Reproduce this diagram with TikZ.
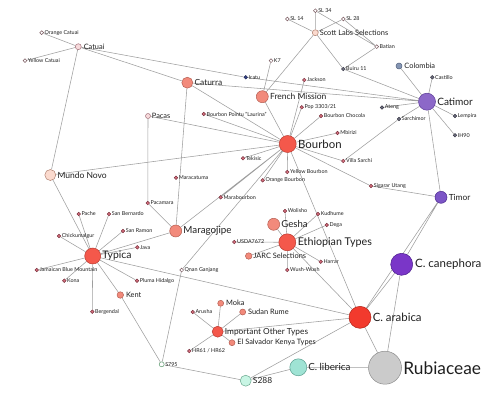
\documentclass[tikz,border=0pt]{standalone}
\usepackage{fontspec}
\setmainfont{Lato}
\usetikzlibrary{backgrounds}
\definecolor{edgec}{HTML}{9E9E9E}
\definecolor{redf}{HTML}{F4584B}\definecolor{redd}{HTML}{B8392F}
\definecolor{arf}{HTML}{F23A2D}\definecolor{ard}{HTML}{B02418}
\definecolor{salf}{HTML}{F28A7B}\definecolor{sald}{HTML}{B55E52}
\definecolor{leaff}{HTML}{D9707F}\definecolor{leafd}{HTML}{7A3440}
\definecolor{peachf}{HTML}{FBDACE}\definecolor{peachd}{HTML}{B08070}
\definecolor{pinkf}{HTML}{F7DADC}\definecolor{pinkd}{HTML}{A07078}
\definecolor{whd}{HTML}{7A5A60}
\definecolor{grf}{HTML}{6F7080}\definecolor{grd}{HTML}{3A3A48}
\definecolor{catf}{HTML}{8C68C8}\definecolor{catd}{HTML}{5C3C98}
\definecolor{timf}{HTML}{7C55C6}\definecolor{timd}{HTML}{4E2C90}
\definecolor{canf}{HTML}{7A36C8}\definecolor{cand}{HTML}{4A1C8C}
\definecolor{colf}{HTML}{8596B4}\definecolor{cold}{HTML}{4F5F7C}
\definecolor{icf}{HTML}{34428A}
\definecolor{libf}{HTML}{9FE3D4}\definecolor{libd}{HTML}{5B9F90}
\definecolor{s288f}{HTML}{C8F5E4}\definecolor{s288d}{HTML}{6AA88E}
\definecolor{s795d}{HTML}{5E9A70}
\definecolor{rubf}{HTML}{CBCBCB}\definecolor{rubd}{HTML}{8C8C8C}
\definecolor{txt}{HTML}{1E1E1E}
\tikzset{
  nd/.style={circle, draw, inner sep=0pt, line width=0.5pt, minimum size=#1},
  leaf/.style={nd=3.6pt, fill=leaff, draw=leafd},
  wleaf/.style={nd=3.8pt, fill=white, draw=whd},
  gleaf/.style={nd=3.6pt, fill=grf, draw=grd},
  tiny/.style={font=\fontsize{5.4}{6}\selectfont, text=txt, inner sep=0.6pt},
  sml/.style={font=\fontsize{7.4}{8}\selectfont, text=txt, inner sep=1pt},
  lab/.style={font=\fontsize{#1}{#1}\selectfont, text=txt, inner sep=1.3pt, anchor=west},
  edge/.style={draw=edgec, line width=0.55pt}
}
\begin{document}
\begin{tikzpicture}[x=1pt,y=-1pt]
\useasboundingbox (0,0) rectangle (500,404);
% ---------- nodes ----------
\node[nd=33pt, fill=rubf, draw=rubd] (rub) at (385,367.7) {};
\node[lab=17.3, inner sep=1.5pt] at (rub.east) {Rubiaceae};
\node[nd=22pt, fill=arf, draw=ard] (arab) at (360,317.3) {};
\node[lab=11.4] at (arab.east) {C. arabica};
\node[nd=22pt, fill=canf, draw=cand] (cane) at (401.7,264.3) {};
\node[lab=11.5, inner sep=2pt] at (cane.east) {C. canephora};
\node[nd=17pt, fill=libf, draw=libd] (lib) at (298.3,367.3) {};
\node[lab=9.8, inner sep=1pt] at (lib.east) {C. liberica};
\node[nd=11pt, fill=s288f, draw=s288d] (s288) at (245.7,380.7) {};
\node[lab=8.4] at (s288.east) {S288};
\node[nd=5pt, fill=white, draw=s795d] (s795) at (161.7,364.3) {};
\node[tiny, anchor=west] at (s795.east) {S795};

\node[nd=12pt, fill=timf, draw=timd] (timor) at (441,197.3) {};
\node[lab=8.4] at (timor.east) {Timor};
\node[nd=17pt, fill=catf, draw=catd] (catimor) at (427,101.7) {};
\node[lab=10.1] at (catimor.east) {Catimor};
\node[nd=6pt, fill=colf, draw=cold] (colombia) at (399,66) {};
\node[sml, anchor=west, inner sep=2pt] at (colombia.east) {Colombia};
\node[gleaf] (castillo) at (432.3,77.3) {};
\node[tiny, anchor=west] at (castillo.east) {Castillo};
\node[gleaf] (lempira) at (455,116) {};
\node[tiny, anchor=west] at (lempira.east) {Lempira};
\node[gleaf] (ih90) at (455,135.3) {};
\node[tiny, anchor=west] at (ih90.east) {IH90};
\node[gleaf] (sarchimor) at (399,119) {};
\node[tiny, anchor=west] at (sarchimor.east) {Sarchimor};
\node[gleaf] (ateng) at (382,107.5) {};
\node[tiny, anchor=west] at (ateng.east) {Ateng};
\node[gleaf] (buiru) at (343.3,69) {};
\node[tiny, anchor=west] at (buiru.east) {Buiru 11};
\node[nd=3.6pt, fill=icf, draw=icf!60!black] (icatu) at (245.7,77.3) {};
\node[tiny, anchor=west] at (icatu.east) {Icatu};

\node[wleaf] (batian) at (376.7,46.7) {};
\node[tiny, anchor=west] at (batian.east) {Batian};
\node[wleaf] (sl28) at (343.3,19) {};
\node[tiny, anchor=west] at (sl28.east) {SL 28};
\node[wleaf] (sl34) at (315.3,10.7) {};
\node[tiny, anchor=west] at (sl34.east) {SL 34};
\node[wleaf] (sl14) at (287.3,19) {};
\node[tiny, anchor=west] at (sl14.east) {SL 14};
\node[nd=6pt, fill=peachf, draw=peachd] (scott) at (315.3,32.7) {};
\node[sml, anchor=west] at (scott.east) {Scott Labs Selections};
\node[wleaf] (k7) at (271,60.7) {};
\node[tiny, anchor=west] at (k7.east) {K7};
\node[leaf] (jackson) at (304.3,80) {};
\node[tiny, anchor=west] at (jackson.east) {Jackson};
\node[nd=12pt, fill=salf, draw=sald] (french) at (262.3,96.7) {};
\node[lab=8.5] at (french.east) {French Mission};
\node[nd=11pt, fill=salf, draw=sald] (caturra) at (187.3,82.7) {};
\node[lab=8.4] at (caturra.east) {Caturra};
\node[nd=6pt, fill=pinkf, draw=pinkd] (catuai) at (78.3,46.7) {};
\node[sml, anchor=west, inner sep=2pt] at (catuai.east) {Catuai};
\node[wleaf] (ocatuai) at (41.7,32.7) {};
\node[tiny, anchor=west] at (ocatuai.east) {Orange Catuai};
\node[wleaf] (ycatuai) at (25,60.7) {};
\node[tiny, anchor=west] at (ycatuai.east) {Yellow Catuai};

\node[leaf] (pop) at (301.7,107.3) {};
\node[tiny, anchor=west] at (pop.east) {Pop 3303/21};
\node[leaf] (chocola) at (321,116) {};
\node[tiny, anchor=west] at (chocola.east) {Bourbon Chocola};
\node[leaf] (pointu) at (203.7,114) {};
\node[tiny, anchor=west] at (pointu.east) {Bourbon Pointu "Laurina"};
\node[nd=17pt, fill=redf, draw=redd] (bourbon) at (287.7,144) {};
\node[lab=11.4, inner sep=1.5pt] at (bourbon.east) {Bourbon};
\node[leaf] (mbirizi) at (337.5,133) {};
\node[tiny, anchor=west] at (mbirizi.east) {Mbirizi};
\node[nd=5pt, fill=pinkf, draw=pinkd] (pacas) at (148,116) {};
\node[sml, anchor=west] at (pacas.east) {Pacas};
\node[leaf] (tekisic) at (243,158.3) {};
\node[tiny, anchor=west] at (tekisic.east) {Tekisic};
\node[leaf] (villa) at (343.3,161) {};
\node[tiny, anchor=west] at (villa.east) {Villa Sarchi};
\node[leaf] (ybourbon) at (287.3,172) {};
\node[tiny, anchor=west] at (ybourbon.east) {Yellow Bourbon};
\node[leaf] (obourbon) at (262.7,180.3) {};
\node[tiny, anchor=west] at (obourbon.east) {Orange Bourbon};
\node[leaf] (maracatuma) at (176,177.7) {};
\node[tiny, anchor=west] at (maracatuma.east) {Maracatuma};
\node[leaf] (sigarar) at (371,186) {};
\node[tiny, anchor=west] at (sigarar.east) {Sigarar Utang};
\node[nd=11pt, fill=peachf, draw=peachd] (mundo) at (50.3,175) {};
\node[lab=8.5] at (mundo.east) {Mundo Novo};
\node[leaf] (marab) at (220.7,197.3) {};
\node[tiny, anchor=west] at (marab.east) {Marabourbon};
\node[leaf] (pacamara) at (147.8,203) {};
\node[tiny, anchor=west] at (pacamara.east) {Pacamara};
\node[nd=12pt, fill=salf, draw=sald] (marago) at (175.7,231) {};
\node[lab=9.8] at (marago.east) {Maragojipe};

\node[leaf] (wolisho) at (285,211) {};
\node[tiny, anchor=west] at (wolisho.east) {Wolisho};
\node[leaf] (kudhume) at (318,214) {};
\node[tiny, anchor=west] at (kudhume.east) {Kudhume};
\node[nd=12pt, fill=salf, draw=sald] (gesha) at (273.7,224.3) {};
\node[lab=9.6] at (gesha.east) {Gesha};
\node[leaf] (dega) at (326.7,225) {};
\node[tiny, anchor=west] at (dega.east) {Dega};
\node[leaf] (usda) at (234.3,242) {};
\node[tiny, anchor=west] at (usda.east) {USDA7672};
\node[nd=17pt, fill=redf, draw=redd] (ethio) at (287.3,242.3) {};
\node[lab=10.7, inner sep=1.5pt] at (ethio.east) {Ethiopian Types};
\node[nd=6.5pt, fill=salf, draw=sald] (jarc) at (248.7,256) {};
\node[sml, anchor=west] at (jarc.east) {JARC Selections};
\node[leaf] (harrar) at (320.7,261.7) {};
\node[tiny, anchor=west] at (harrar.east) {Harrar};
\node[leaf] (wush) at (287.3,270) {};
\node[tiny, anchor=west] at (wush.east) {Wush-Wush};
\node[wleaf] (qnan) at (181.7,270) {};
\node[tiny, anchor=west] at (qnan.east) {Qnan Ganjang};

\node[leaf] (pache) at (78.7,214) {};
\node[tiny, anchor=west] at (pache.east) {Pache};
\node[leaf] (sanb) at (109,214) {};
\node[tiny, anchor=west] at (sanb.east) {San Bernardo};
\node[leaf] (chick) at (59,236) {};
\node[tiny, anchor=west] at (chick.east) {Chickumalgur};
\node[leaf] (sanr) at (123,231) {};
\node[tiny, anchor=west] at (sanr.east) {San Ramon};
\node[leaf] (java) at (137.3,247.3) {};
\node[tiny, anchor=west] at (java.east) {Java};
\node[nd=16pt, fill=redf, draw=redd] (typica) at (92.7,256) {};
\node[lab=10.4] at (typica.east) {Typica};
\node[leaf] (jbm) at (36.7,270) {};
\node[tiny, anchor=west] at (jbm.east) {Jamaican Blue Mountain};
\node[leaf] (kona) at (64.3,280.7) {};
\node[tiny, anchor=west] at (kona.east) {Kona};
\node[leaf] (pluma) at (137,280.7) {};
\node[tiny, anchor=west] at (pluma.east) {Pluma Hidalgo};
\node[nd=6.5pt, fill=salf, draw=sald] (kent) at (120.3,295) {};
\node[sml, anchor=west, inner sep=2pt] at (kent.east) {Kent};
\node[leaf] (bergendal) at (92.3,311.7) {};
\node[tiny, anchor=west] at (bergendal.east) {Bergendal};

\node[nd=6pt, fill=salf, draw=sald] (moka) at (220.7,303.3) {};
\node[sml, anchor=west, inner sep=2pt] at (moka.east) {Moka};
\node[leaf] (arusha) at (192.7,312) {};
\node[tiny, anchor=west] at (arusha.east) {Arusha};
\node[nd=6pt, fill=salf, draw=sald] (sudan) at (242.7,312) {};
\node[sml, anchor=west, inner sep=2pt] at (sudan.east) {Sudan Rume};
\node[nd=11pt, fill=redf, draw=redd] (iot) at (217.7,331.7) {};
\node[lab=8.3] at (iot.east) {Important Other Types};
\node[nd=6pt, fill=salf, draw=sald] (elsal) at (232,342.7) {};
\node[sml, anchor=west, inner sep=2pt] at (elsal.east) {El Salvador Kenya Types};
\node[leaf] (hr) at (189.3,351) {};
\node[tiny, anchor=west] at (hr.east) {HR61 / HR62};

% ---------- edges ----------
\begin{pgfonlayer}{background}
\path[edge]
  (catuai) -- (ocatuai)  (catuai) -- (ycatuai)  (catuai) -- (mundo)
  (catuai) -- (caturra)  (catuai) -- (icatu)  (icatu) -- (catimor)
  (caturra) -- (catimor)  (caturra) -- (bourbon)  (caturra) -- (marago)
  (scott) -- (sl14)  (scott) -- (sl34)  (scott) -- (sl28)
  (sl34) -- (batian)  (sl28) -- (batian)  (batian) -- (buiru)
  (scott) -- (buiru)  (scott) -- (french)  (k7) -- (french)
  (french) -- (bourbon)  (jackson) -- (bourbon)  (pop) -- (bourbon)
  (chocola) -- (bourbon)  (pointu) -- (bourbon)  (pacas) -- (bourbon)
  (pacas) -- (pacamara)  (pacamara) -- (marago)
  (mundo) -- (bourbon)  (mundo) -- (typica)
  (tekisic) -- (bourbon)  (mbirizi) -- (bourbon)  (villa) -- (bourbon)
  (sigarar) -- (bourbon)  (ybourbon) -- (bourbon)  (obourbon) -- (bourbon)
  (marab) -- (bourbon)  (marago) -- (bourbon)  (qnan) -- (bourbon)
  (qnan) -- (s795)  (bourbon) -- (arab)
  (buiru) -- (catimor)  (colombia) -- (catimor)  (castillo) -- (catimor)
  (lempira) -- (catimor)  (ih90) -- (catimor)  (ateng) -- (catimor)
  (sarchimor) -- (catimor)  (villa) -- (sarchimor)  (catimor) -- (timor)
  (sigarar) -- (timor)  (timor) -- (cane)  (timor) -- (arab)
  (cane) -- (arab)  (cane) -- (rub)  (arab) -- (rub)  (lib) -- (rub)
  (s288) -- (lib)  (s288) -- (arab)  (s795) -- (s288)  (kent) -- (s795)
  (typica) -- (kent)  (typica) -- (pache)  (typica) -- (sanb)
  (typica) -- (chick)  (typica) -- (sanr)  (typica) -- (java)
  (typica) -- (jbm)  (typica) -- (kona)  (typica) -- (pluma)
  (typica) -- (bergendal)  (typica) -- (marago)  (typica) -- (arab)
  (ethio) -- (wolisho)  (ethio) -- (kudhume)  (ethio) -- (gesha)
  (ethio) -- (dega)  (ethio) -- (usda)  (ethio) -- (jarc)
  (ethio) -- (harrar)  (ethio) -- (wush)  (ethio) -- (arab)
  (iot) -- (moka)  (iot) -- (arusha)  (iot) -- (sudan)
  (iot) -- (elsal)  (iot) -- (hr)  (iot) -- (arab);
\end{pgfonlayer}
\end{tikzpicture}
\end{document}
